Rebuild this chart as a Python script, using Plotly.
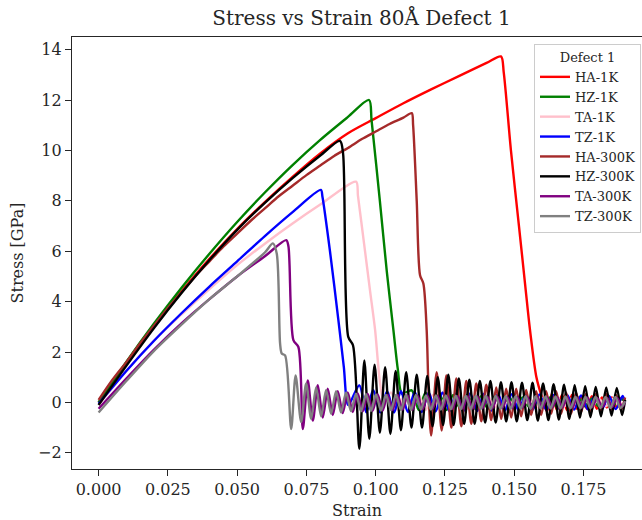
import plotly.graph_objects as go

# ---------------- data ----------------
labels = ["HA-1K", "HZ-1K", "TA-1K", "TZ-1K", "HA-300K", "HZ-300K", "TA-300K", "TZ-300K"]
colors = ["red", "green", "pink", "blue", "brown", "black", "purple", "gray"]

ha1k_strain = [0, 0.01, 0.02, 0.03, 0.04, 0.05, 0.06, 0.07, 0.08, 0.09, 0.10, 0.11, 0.12, 0.13, 0.14,
               0.1452, 0.1462, 0.1488, 0.1517, 0.1540, 0.1557, 0.1580, 0.1600,
               0.1618, 0.1636, 0.1654, 0.1672, 0.1690, 0.1708, 0.1726, 0.1744, 0.1762, 0.1780,
               0.1798, 0.1816, 0.1834, 0.1852, 0.1870, 0.1888, 0.1900]
ha1k_stress = [0.0, 1.58, 3.05, 4.42, 5.70, 6.88, 7.95, 8.95, 9.88, 10.68, 11.28, 11.87, 12.42, 12.95, 13.47,
               13.73, 13.10, 10.00, 7.00, 4.60, 2.86, 1.00, 0.20,
               -0.35, 0.35, -0.30, 0.30, -0.30, 0.30, -0.25, 0.25, -0.25, 0.25,
               -0.25, 0.20, -0.20, 0.20, -0.20, 0.20, 0.00]

hz1k_strain = [0, 0.01, 0.02, 0.03, 0.04, 0.05, 0.06, 0.07, 0.08, 0.09, 0.0976,
               0.0985, 0.1015, 0.1040, 0.1064, 0.1080, 0.1095,
               0.1130, 0.1155, 0.1180, 0.1205, 0.1230, 0.1255, 0.1280, 0.1305, 0.1330, 0.1355,
               0.1380, 0.1405, 0.1430, 0.1455, 0.1480, 0.1505, 0.1530, 0.1555, 0.1580, 0.1605,
               0.1630, 0.1655, 0.1680, 0.1705, 0.1730, 0.1755, 0.1780, 0.1805, 0.1830, 0.1855,
               0.1880, 0.1900]
hz1k_stress = [0.0, 1.61, 3.13, 4.56, 5.90, 7.16, 8.33, 9.42, 10.42, 11.33, 12.00,
               11.20, 8.00, 5.20, 2.86, 1.30, 0.35,
               0.48, -0.30, 0.40, -0.30, 0.35, -0.30, 0.30, -0.25, 0.30, -0.25,
               0.25, -0.25, 0.25, -0.20, 0.25, -0.20, 0.20, -0.20, 0.20, -0.20,
               0.20, -0.20, 0.20, -0.15, 0.20, -0.15, 0.15, -0.15, 0.15, -0.15,
               0.15, 0.05]

ta1k_strain = [0, 0.01, 0.02, 0.03, 0.04, 0.05, 0.06, 0.07, 0.08, 0.0929,
               0.0936, 0.0958, 0.0980, 0.0998, 0.1008, 0.1016, 0.1030,
               0.1055, 0.1080, 0.1105, 0.1130, 0.1155, 0.1180, 0.1205, 0.1230, 0.1255, 0.1280,
               0.1305, 0.1330, 0.1355, 0.1380, 0.1405, 0.1430, 0.1455, 0.1480, 0.1505, 0.1530,
               0.1555, 0.1580, 0.1605, 0.1630, 0.1655, 0.1680, 0.1705, 0.1730, 0.1755, 0.1780,
               0.1805, 0.1830, 0.1855, 0.1880, 0.1900]
ta1k_stress = [-0.10, 1.25, 2.45, 3.50, 4.50, 5.45, 6.30, 7.10, 7.85, 8.76,
               8.20, 6.30, 4.40, 2.86, 1.60, 0.74, 0.00,
               0.40, -0.30, 0.35, -0.30, 0.30, -0.30, 0.30, -0.25, 0.30, -0.25,
               0.25, -0.25, 0.25, -0.20, 0.25, -0.20, 0.20, -0.20, 0.20, -0.20,
               0.20, -0.20, 0.20, -0.15, 0.20, -0.15, 0.15, -0.15, 0.15, -0.15,
               0.15, -0.15, 0.15, -0.10, 0.05]

tz1k_strain = [0, 0.01, 0.02, 0.03, 0.04, 0.05, 0.06, 0.07, 0.0802,
               0.0808, 0.0835, 0.0865, 0.0885, 0.0901,
               0.0941, 0.0966, 0.0991, 0.1016, 0.1041, 0.1066, 0.1091, 0.1116, 0.1141, 0.1166,
               0.1191, 0.1216, 0.1241, 0.1266, 0.1291, 0.1316, 0.1341, 0.1366, 0.1391, 0.1416,
               0.1441, 0.1466, 0.1491, 0.1516, 0.1541, 0.1566, 0.1591, 0.1616, 0.1641, 0.1666,
               0.1691, 0.1716, 0.1741, 0.1766, 0.1791, 0.1816, 0.1841, 0.1866, 0.1891, 0.1900]
tz1k_stress = [-0.05, 1.25, 2.45, 3.55, 4.60, 5.60, 6.60, 7.55, 8.43,
               8.15, 6.00, 3.30, 1.40, -0.10,
               0.68, -0.39, 0.50, -0.40, 0.45, -0.40, 0.45, -0.38, 0.42, -0.38,
               0.40, -0.36, 0.40, -0.35, 0.38, -0.35, 0.36, -0.34, 0.35, -0.33,
               0.34, -0.32, 0.33, -0.32, 0.32, -0.30, 0.32, -0.30, 0.30, -0.30,
               0.30, -0.28, 0.28, -0.28, 0.28, -0.27, 0.27, -0.26, 0.26, 0.00]

ha300k_strain = [0, 0.005, 0.01, 0.015, 0.02, 0.025, 0.03, 0.035, 0.04, 0.045, 0.05, 0.055, 0.06, 0.065,
                 0.07, 0.075, 0.08, 0.085, 0.09, 0.095, 0.10, 0.105, 0.11, 0.113,
                 0.1135, 0.1148, 0.1160, 0.1172, 0.1184, 0.1190,
                 0.1200, 0.1220, 0.1238, 0.1255, 0.1273, 0.1291, 0.1309, 0.1327, 0.1345, 0.1363,
                 0.1381, 0.1399, 0.1417, 0.1435, 0.1453, 0.1471, 0.1489, 0.1507, 0.1525, 0.1543,
                 0.1561, 0.1579, 0.1597, 0.1615, 0.1633, 0.1651, 0.1669, 0.1687, 0.1705, 0.1723,
                 0.1741, 0.1759, 0.1777, 0.1795, 0.1813, 0.1831, 0.1849, 0.1867, 0.1885, 0.1900]
ha300k_stress = [0.10, 0.90, 1.60, 2.35, 3.05, 3.75, 4.38, 5.02, 5.60, 6.18, 6.70, 7.22, 7.70, 8.18,
                 8.60, 9.02, 9.40, 9.78, 10.10, 10.45, 10.75, 11.05, 11.30, 11.48,
                 11.00, 8.00, 5.05, 4.72, 2.86, 0.74,
                 -1.31, 1.20, -1.11, 1.07, -1.00, 0.95, -0.95, 0.85, -0.85, 0.75,
                 -0.75, 0.70, -0.70, 0.60, -0.65, 0.55, -0.60, 0.55, -0.55, 0.50,
                 -0.50, 0.45, -0.50, 0.45, -0.45, 0.45, -0.45, 0.40, -0.45, 0.40,
                 -0.40, 0.35, -0.40, 0.35, -0.35, 0.35, -0.30, 0.30, -0.30, 0.20]

hz300k_strain = [0, 0.01, 0.02, 0.03, 0.04, 0.05, 0.06, 0.07, 0.08, 0.0871,
                 0.0882, 0.0901, 0.0918, 0.0941,
                 0.0959, 0.0977, 0.0996, 0.1015, 0.1034, 0.1053, 0.1072, 0.1091, 0.1110, 0.1129,
                 0.1148, 0.1167, 0.1186, 0.1205, 0.1224, 0.1243, 0.1262, 0.1281, 0.1300, 0.1319,
                 0.1338, 0.1357, 0.1376, 0.1395, 0.1414, 0.1433, 0.1452, 0.1471, 0.1490, 0.1509,
                 0.1528, 0.1547, 0.1566, 0.1585, 0.1604, 0.1623, 0.1642, 0.1661, 0.1680, 0.1699,
                 0.1718, 0.1737, 0.1756, 0.1775, 0.1794, 0.1813, 0.1832, 0.1851, 0.1870, 0.1889,
                 0.1900]
hz300k_stress = [-0.10, 1.45, 2.95, 4.35, 5.65, 6.85, 7.92, 8.90, 9.80, 10.38,
                 9.90, 2.60, 2.27, -1.84,
                 1.67, -1.44, 1.50, -1.20, 1.40, -1.25, 1.25, -1.10, 1.20, -1.00,
                 1.10, -1.00, 1.05, -0.95, 1.00, -0.90, 1.10, -0.90, 0.95, -0.85,
                 0.90, -0.85, 0.85, -0.80, 0.85, -0.80, 0.80, -0.75, 0.80, -0.75,
                 0.78, -0.70, 0.78, -0.72, 0.75, -0.70, 0.72, -0.68, 0.70, -0.65,
                 0.68, -0.60, 0.65, -0.58, 0.62, -0.55, 0.60, -0.52, 0.58, -0.50,
                 0.10]

ta300k_strain = [0, 0.01, 0.02, 0.03, 0.04, 0.05, 0.06, 0.0677,
                 0.0685, 0.0703, 0.0721, 0.0737,
                 0.0755, 0.0773, 0.0791, 0.0809, 0.0827, 0.0845, 0.0863, 0.0881, 0.0899, 0.0917,
                 0.0935, 0.0953, 0.0971, 0.0989, 0.1007, 0.1025, 0.1043, 0.1061, 0.1079, 0.1097,
                 0.1115, 0.1133, 0.1151, 0.1169, 0.1187, 0.1205, 0.1223, 0.1241, 0.1259, 0.1277,
                 0.1295, 0.1313, 0.1331, 0.1349, 0.1367, 0.1385, 0.1403, 0.1421, 0.1439, 0.1457,
                 0.1475, 0.1493, 0.1511, 0.1529, 0.1547, 0.1565, 0.1583, 0.1601, 0.1619, 0.1637,
                 0.1655, 0.1673, 0.1691, 0.1709, 0.1727, 0.1745, 0.1763, 0.1781, 0.1799, 0.1817,
                 0.1835, 0.1853, 0.1871, 0.1889, 0.1900]
ta300k_stress = [-0.25, 0.95, 2.10, 3.15, 4.10, 5.00, 5.80, 6.44,
                 6.20, 2.47, 2.20, -1.05,
                 0.87, -0.72, 0.68, -0.60, 0.55, -0.50, 0.45, -0.42, 0.40, -0.38,
                 0.36, -0.35, 0.34, -0.33, 0.32, -0.32, 0.30, -0.30, 0.30, -0.28,
                 0.28, -0.28, 0.27, -0.27, 0.26, -0.26, 0.26, -0.25, 0.25, -0.25,
                 0.25, -0.24, 0.24, -0.24, 0.24, -0.23, 0.23, -0.23, 0.23, -0.22,
                 0.22, -0.22, 0.22, -0.21, 0.21, -0.21, 0.21, -0.20, 0.20, -0.20,
                 0.20, -0.20, 0.20, -0.19, 0.19, -0.19, 0.19, -0.18, 0.18, -0.18,
                 0.18, -0.18, 0.18, -0.17, 0.05]

tz300k_strain = [0, 0.01, 0.02, 0.03, 0.04, 0.05, 0.06, 0.0629,
                 0.0643, 0.0655, 0.0661, 0.0673, 0.0695,
                 0.0711, 0.0731, 0.0749, 0.0767, 0.0785, 0.0803, 0.0821, 0.0839, 0.0857, 0.0875,
                 0.0893, 0.0911, 0.0929, 0.0947, 0.0965, 0.0983, 0.1001, 0.1019, 0.1037, 0.1055,
                 0.1073, 0.1091, 0.1109, 0.1127, 0.1145, 0.1163, 0.1181, 0.1199, 0.1217, 0.1235,
                 0.1253, 0.1271, 0.1289, 0.1307, 0.1325, 0.1343, 0.1361, 0.1379, 0.1397, 0.1415,
                 0.1433, 0.1451, 0.1469, 0.1487, 0.1505, 0.1523, 0.1541, 0.1559, 0.1577, 0.1595,
                 0.1613, 0.1631, 0.1649, 0.1667, 0.1685, 0.1703, 0.1721, 0.1739, 0.1757, 0.1775,
                 0.1793, 0.1811, 0.1829, 0.1847, 0.1865, 0.1883, 0.1900]
tz300k_stress = [-0.40, 0.85, 2.05, 3.10, 4.10, 5.00, 5.95, 6.31,
                 5.90, 2.33, 1.94, 1.87, -1.05,
                 1.07, -0.78, 0.75, -0.65, 0.60, -0.55, 0.50, -0.45, 0.45, -0.40,
                 0.40, -0.35, 0.35, -0.35, 0.33, -0.33, 0.32, -0.32, 0.30, -0.30,
                 0.30, -0.30, 0.30, -0.30, 0.30, -0.28, 0.28, -0.28, 0.28, -0.28,
                 0.28, -0.27, 0.27, -0.27, 0.27, -0.26, 0.26, -0.26, 0.26, -0.26,
                 0.26, -0.25, 0.25, -0.25, 0.25, -0.25, 0.25, -0.25, 0.25, -0.24,
                 0.24, -0.24, 0.24, -0.24, 0.24, -0.23, 0.23, -0.23, 0.23, -0.23,
                 0.23, -0.22, 0.22, -0.22, 0.22, -0.22, 0.05]

series_strain = [ha1k_strain, hz1k_strain, ta1k_strain, tz1k_strain,
                 ha300k_strain, hz300k_strain, ta300k_strain, tz300k_strain]
series_stress = [ha1k_stress, hz1k_stress, ta1k_stress, tz1k_stress,
                 ha300k_stress, hz300k_stress, ta300k_stress, tz300k_stress]

x_ticks = [0.000, 0.025, 0.050, 0.075, 0.100, 0.125, 0.150, 0.175]
y_ticks = [-2, 0, 2, 4, 6, 8, 10, 12, 14]

# ---------------- figure ----------------
FONT = "DejaVu Serif"
fig = go.Figure()
for lab, col, xs, ys in zip(labels, colors, series_strain, series_stress):
    n = min(len(xs), len(ys))
    fig.add_trace(go.Scatter(x=xs[:n], y=ys[:n], mode="lines", name=lab,
                             line=dict(color=col, width=2.4, shape="spline", smoothing=0.8)))

fig.update_layout(
    width=642, height=520,
    margin=dict(l=72, r=0, t=37, b=51),
    paper_bgcolor="white", plot_bgcolor="white",
    font=dict(family=FONT, color="#262626", size=16),
    title=dict(text="Stress vs Strain 80Å Defect 1", x=361.5 / 642, xref="container",
               xanchor="center", y=1 - 18 / 520, yanchor="middle",
               font=dict(family=FONT, size=20, color="#262626")),
    showlegend=True,
    legend=dict(title=dict(text="Defect 1", side="top center", font=dict(size=13)),
                font=dict(family=FONT, size=13, color="#262626"),
                x=(534 - 72) / 570, xanchor="left", y=(469 - 44) / 432, yanchor="top",
                bgcolor="white", bordercolor="#cccccc", borderwidth=1,
                itemwidth=30, tracegroupgap=0),
)
fig.update_xaxes(range=[-0.0096, 0.1961], tickvals=x_ticks,
                 ticktext=[f"{v:.3f}" for v in x_ticks],
                 showline=True, linecolor="#262626", linewidth=1.2, mirror=True,
                 ticks="outside", ticklen=6, tickcolor="#262626", showgrid=False, zeroline=False,
                 tickfont=dict(size=16),
                 title=dict(text="Strain", standoff=6, font=dict(size=16)))
fig.update_yaxes(range=[-2.64, 14.5], tickvals=y_ticks,
                 ticktext=[str(v).replace("-", "\u2212") for v in y_ticks],
                 showline=True, linecolor="#262626", linewidth=1.2, mirror=False,
                 ticks="outside", ticklen=6, tickcolor="#262626", showgrid=False, zeroline=False,
                 tickfont=dict(size=16),
                 title=dict(text="Stress [GPa]", standoff=10, font=dict(size=16)))

fig.write_html("out.html")
